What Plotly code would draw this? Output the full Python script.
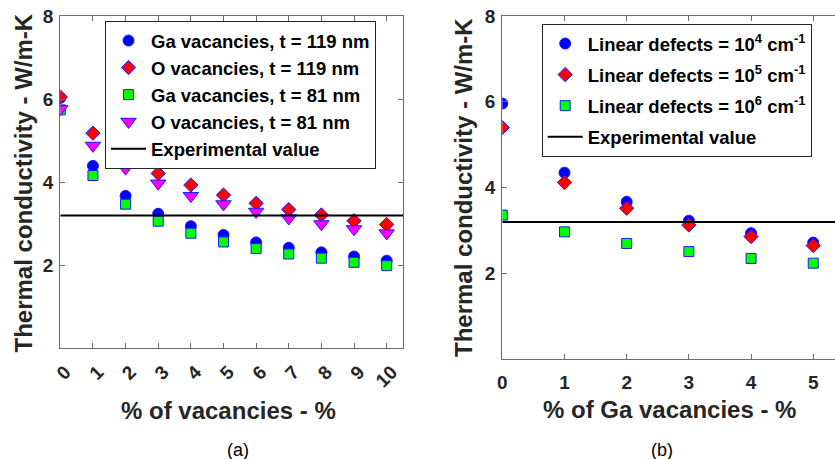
import plotly.graph_objects as go

# ---- Panel (a): conductivity vs. vacancy concentration ----
vacancy_pct = [0, 1, 2, 3, 4, 5, 6, 7, 8, 9, 10]
ga_vac_119 = [6.03, 4.39, 3.67, 3.24, 2.94, 2.73, 2.55, 2.42, 2.31, 2.21, 2.11]
o_vac_119 = [6.05, 5.18, 4.61, 4.21, 3.93, 3.69, 3.49, 3.34, 3.21, 3.07, 2.98]
ga_vac_81 = [5.74, 4.16, 3.47, 3.06, 2.77, 2.56, 2.40, 2.27, 2.17, 2.07, 1.99]
o_vac_81 = [5.76, 4.88, 4.33, 3.97, 3.67, 3.47, 3.29, 3.13, 2.99, 2.87, 2.77]

# ---- Panel (b): conductivity vs. Ga vacancies for several linear defect densities ----
ga_vac_pct = [0, 1, 2, 3, 4, 5]
ld_1e4 = [5.96, 4.35, 3.67, 3.23, 2.94, 2.72]
ld_1e5 = [5.40, 4.12, 3.52, 3.13, 2.86, 2.65]
ld_1e6 = [3.36, 2.97, 2.70, 2.51, 2.35, 2.24]

EXPERIMENTAL = 3.2

y_ticks = [2, 4, 6, 8]
xa_ticks = vacancy_pct
xb_ticks = ga_vac_pct
XA_RANGE = [0, 10.5]
XB_RANGE = [0, 5.35]
Y_RANGE = [0, 8]

W, H = 835, 459
FONT = "Liberation Sans"
AXIS_GREY = "#262626"
LINE_GREY = "#6b6b6b"
EDGE = "#1a1aff"


def px_x(v):
    return v / W


def px_y(v):
    return 1 - v / H


fig = go.Figure()

styles = [
    dict(symbol="circle", size=11, color="#0000ff"),
    dict(symbol="diamond", size=11, color="#ff0000"),
    dict(symbol="square", size=10, color="#00ff00"),
    dict(symbol="triangle-down", size=13.5, color="#ff00ff"),
]

series_a = [
    ("Ga vacancies, t = 119 nm", ga_vac_119),
    ("O vacancies, t = 119 nm", o_vac_119),
    ("Ga vacancies, t = 81 nm", ga_vac_81),
    ("O vacancies, t = 81 nm", o_vac_81),
]
for (name, vals), st in zip(series_a, styles):
    fig.add_trace(go.Scatter(
        x=vacancy_pct, y=vals, mode="markers", name=name,
        xaxis="x", yaxis="y", legend="legend",
        marker=dict(symbol=st["symbol"], size=st["size"], color=st["color"],
                    line=dict(color=EDGE, width=1)),
    ))
fig.add_trace(go.Scatter(
    x=XA_RANGE, y=[EXPERIMENTAL, EXPERIMENTAL], mode="lines",
    name="Experimental value", xaxis="x", yaxis="y", legend="legend",
    line=dict(color="black", width=2),
))

series_b = [
    ("Linear defects = 10<sup>4</sup> cm<sup>-1</sup>", ld_1e4),
    ("Linear defects = 10<sup>5</sup> cm<sup>-1</sup>", ld_1e5),
    ("Linear defects = 10<sup>6</sup> cm<sup>-1</sup>", ld_1e6),
]
for i, ((name, vals), st) in enumerate(zip(series_b, styles[:3])):
    fig.add_trace(go.Scatter(
        x=ga_vac_pct, y=vals, mode="markers", name=name,
        xaxis="x2", yaxis="y2", legend="legend2", legendgroup=f"b{i}",
        marker=dict(symbol=st["symbol"], size=st["size"], color=st["color"],
                    line=dict(color=EDGE, width=1)),
    ))
fig.add_trace(go.Scatter(
    x=XB_RANGE, y=[EXPERIMENTAL, EXPERIMENTAL], mode="lines",
    name="Experimental value", xaxis="x2", yaxis="y2", legend="legend2",
    legendgroup="b_exp",
    line=dict(color="black", width=2),
))

tick_font = dict(family=FONT, size=19, color=AXIS_GREY, weight="bold")
common_axis = dict(showgrid=False, zeroline=False, showline=True, automargin=False,
                   linecolor=LINE_GREY, linewidth=1.3,
                   ticks="inside", ticklen=5, tickwidth=1, tickcolor=LINE_GREY,
                   tickfont=tick_font)
legend_font = dict(family=FONT, size=18.5, color="black", weight="bold")

fig.update_layout(
    width=W, height=H,
    margin=dict(l=0, r=0, t=0, b=0, pad=0, autoexpand=False),
    paper_bgcolor="white", plot_bgcolor="white",
    xaxis=dict(domain=[px_x(60.3), px_x(403)], range=XA_RANGE, anchor="y",
               tickvals=xa_ticks, tickangle=-45, mirror="allticks",
               ticklabelstandoff=4, ticklabelshift=5, **common_axis),
    yaxis=dict(domain=[px_y(348.3), px_y(16)], range=Y_RANGE, anchor="x",
               tickvals=y_ticks, mirror="allticks", ticklabelstandoff=2,
               **common_axis),
    xaxis2=dict(domain=[px_x(502.3), 1.0], range=XB_RANGE, anchor="y2",
                tickvals=xb_ticks, mirror="ticks", ticklabelstandoff=6,
                **common_axis),
    yaxis2=dict(domain=[px_y(359.3), px_y(16)], range=Y_RANGE, anchor="x2",
                tickvals=y_ticks, mirror=False, ticklabelstandoff=2,
                **common_axis),
    legend=dict(x=px_x(105), y=px_y(21), xanchor="left", yanchor="top",
                xref="paper", yref="paper",
                bgcolor="white", bordercolor=AXIS_GREY, borderwidth=1,
                itemwidth=35, font=legend_font),
    legend2=dict(x=px_x(541.7), y=px_y(24), xanchor="left", yanchor="top",
                 xref="paper", yref="paper", tracegroupgap=4,
                 bgcolor="white", bordercolor=AXIS_GREY, borderwidth=1,
                 itemwidth=35, font=legend_font),
)

title_font = dict(family=FONT, size=24, color=AXIS_GREY, weight="bold")
annotations = [
    dict(text="% of vacancies - %", x=px_x(229), y=px_y(410)),
    dict(text="% of Ga vacancies - %", x=px_x(669), y=px_y(409)),
    dict(text="Thermal conductivity - W/m-K", x=px_x(22.5), y=px_y(183), textangle=-90),
    dict(text="Thermal conductivity - W/m-K", x=px_x(464), y=px_y(188), textangle=-90),
]
for a in annotations:
    fig.add_annotation(xref="paper", yref="paper", xanchor="center", yanchor="middle",
                       showarrow=False, font=title_font, **a)

caption_font = dict(family=FONT, size=18, color="black")
for label, cx in (("(a)", 238), ("(b)", 662)):
    fig.add_annotation(text=label, x=px_x(cx), y=px_y(450), xref="paper", yref="paper",
                       xanchor="center", yanchor="middle", showarrow=False,
                       font=caption_font)

fig.write_html("out.html")
